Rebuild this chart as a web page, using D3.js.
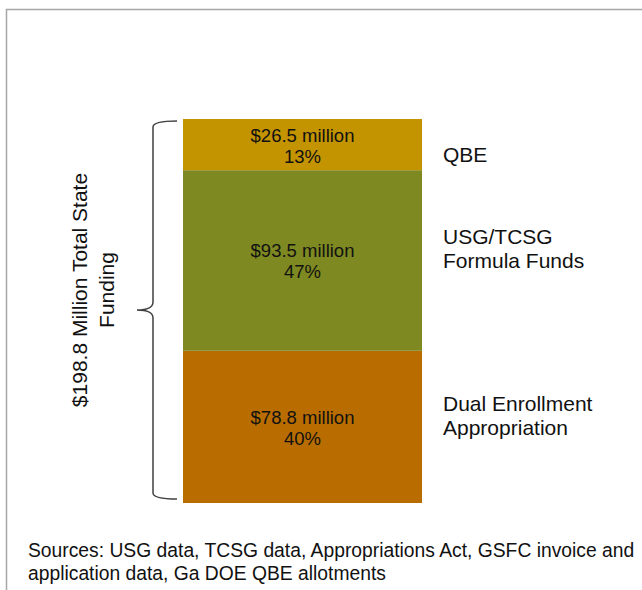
<!DOCTYPE html>
<html>
<head>
<meta charset="utf-8">
<script src="https://cdn.jsdelivr.net/npm/d3@7"></script>
<style>
  body { margin: 0; background: #fff; }
  svg { display: block; font-family: "Liberation Sans", Arial, sans-serif; }
</style>
</head>
<body>
<svg width="642" height="590"></svg>
<script>
// funding pieces, stacked bottom to top
var categories = ["Dual Enrollment Appropriation", "USG/TCSG Formula Funds", "QBE"];
var labelLines = [["Dual Enrollment", "Appropriation"], ["USG/TCSG", "Formula Funds"], ["QBE"]];
var amounts = [78.8, 93.5, 26.5];
var total = 198.8;
var totalLines = ["$198.8 Million Total State", "Funding"];
var sourceLines = ["Sources: USG data, TCSG data, Appropriations Act, GSFC invoice and",
                   "application data, Ga DOE QBE allotments"];

var svg = d3.select("svg");
var z = d3.scaleOrdinal()
    .domain(categories)
    .range(["#b96d00", "#7e8921", "#c49300"]);

var y = d3.scaleLinear().domain([0, total]).range([503, 119]);
var barX = 183, barW = 239;

// frame
svg.append("rect")
    .attr("x", 6.5).attr("y", 9.5)
    .attr("width", 800).attr("height", 800)
    .attr("fill", "none")
    .attr("stroke", "#a6a6a6")
    .attr("stroke-width", 1.5);

var stacked = [];
var acc = 0;
amounts.forEach(function(v, i) {
  stacked.push({key: categories[i], lines: labelLines[i], value: v, y0: acc, y1: acc + v});
  acc += v;
});

var pct = d3.format(".0%");

var seg = svg.selectAll(".seg")
  .data(stacked)
  .enter().append("g")
    .attr("class", "seg");

seg.append("rect")
    .attr("x", barX)
    .attr("width", barW)
    .attr("y", function(d) { return y(d.y1); })
    .attr("height", function(d) { return y(d.y0) - y(d.y1); })
    .attr("fill", function(d) { return z(d.key); });

seg.append("text")
    .attr("x", barX + barW / 2)
    .attr("text-anchor", "middle")
    .attr("font-size", "18.5px")
    .attr("fill", "#111")
    .each(function(d) {
      var mid = (y(d.y0) + y(d.y1)) / 2;
      var t = d3.select(this);
      t.append("tspan").attr("x", barX + barW / 2).attr("y", mid - 3)
        .text("$" + d.value + " million");
      t.append("tspan").attr("x", barX + barW / 2).attr("y", mid + 18)
        .text(pct(d.value / total));
    });

// labels to the right
seg.append("text")
    .attr("font-size", "21px")
    .attr("fill", "#111")
    .each(function(d) {
      var mid = (y(d.y0) + y(d.y1)) / 2;
      var t = d3.select(this);
      var start = d.lines.length > 1 ? mid - 16 : mid + 17;
      d.lines.forEach(function(l, j) {
        t.append("tspan").attr("x", 443).attr("y", start + j * 24).text(l);
      });
    });

// brace
var braceTop = y(total) + 2, braceBot = y(0) - 4, tip = (y(0) + y(total)) / 2 - 1;
var bx = 153, ex = 177, tx = 137;
var p = d3.path();
p.moveTo(ex, braceTop);
p.quadraticCurveTo(bx, braceTop, bx, braceTop + 6);
p.lineTo(bx, tip - 8);
p.quadraticCurveTo(bx, tip, tx, tip);
p.quadraticCurveTo(bx, tip, bx, tip + 8);
p.lineTo(bx, braceBot - 6);
p.quadraticCurveTo(bx, braceBot, ex, braceBot);
svg.append("path")
    .attr("d", p.toString())
    .attr("fill", "none")
    .attr("stroke", "#404040")
    .attr("stroke-width", 1.5);

// total label, rotated
var tt = svg.append("text")
    .attr("transform", "translate(87," + (tip - 20) + ") rotate(-90)")
    .attr("text-anchor", "middle")
    .attr("font-size", "21px")
    .attr("fill", "#111");
totalLines.forEach(function(l, j) {
  tt.append("tspan").attr("x", 0).attr("y", j * 27).text(l);
});

// sources
var st = svg.append("text")
    .attr("font-size", "19.3px")
    .attr("fill", "#111");
sourceLines.forEach(function(l, j) {
  st.append("tspan").attr("x", 28).attr("y", 557 + j * 23).text(l);
});
</script>
</body>
</html>
